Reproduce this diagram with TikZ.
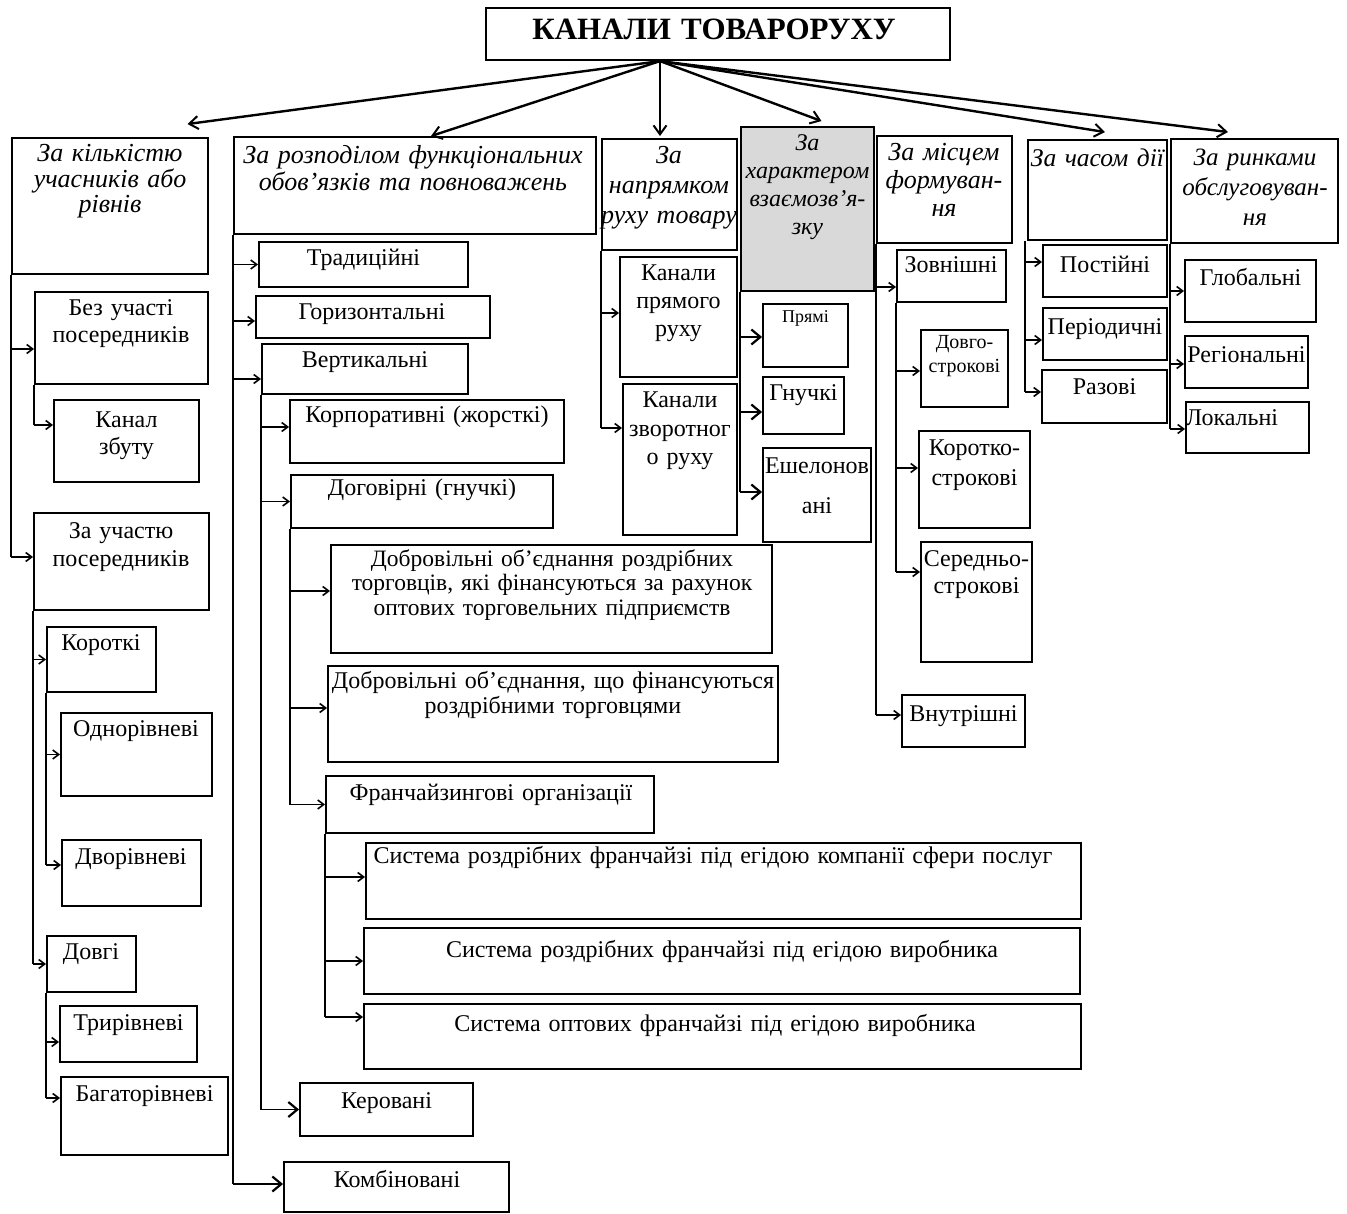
\documentclass[tikz,border=0pt]{standalone}
\usepackage{fontspec}
\setmainfont{Liberation Serif}
\usetikzlibrary{arrows.meta,fit,calc}
\definecolor{hdrgray}{HTML}{D9D9D9}
\tikzset{
  box/.style={draw, line width=1.9pt, inner sep=0pt},
  conn/.style={line width=1.9pt},
  arr/.style={conn, -{Straight Barb[length=6pt,width=9pt,line width=1.6pt]}},
  bigarr/.style={conn, -{Straight Barb[length=9pt,width=15pt,line width=2.2pt]}},
  toparr/.style={line width=2.4pt, -{Straight Barb[length=9pt,width=13pt,line width=2pt]}},
  t/.style={font=\fontsize{24}{27}\selectfont, text width=800pt, align=center, anchor=base, inner sep=0pt},
  h/.style={t, font=\itshape\fontsize{26}{28}\selectfont},
}
\newcommand\bx[6][]{\node[box,#1,fit={(#3,-#4)(#5,-#6)}] (#2) {};}
\newcommand\into[4][arr]{%
  \coordinate (#3-in) at ([yshift=#4]#3.west);
  \draw[#1] (#2 |- #3-in) -- (#3-in);}
\begin{document}
\begin{tikzpicture}[x=1pt,y=1pt]
\useasboundingbox (0,0) rectangle (1347,-1214);

% ---------- title ----------
\bx[line width=2.2pt]{title}{486}{8}{950}{60}
\node[t, font=\bfseries\fontsize{31}{34}\selectfont] (title-t) at (714,-40) {КАНАЛИ ТОВАРОРУХУ};

% ---------- headings ----------
\bx{b1}{12}{138}{208}{274}
\bx{b2}{234}{137}{596}{234}
\bx{b3}{602}{139}{737}{250}
\bx[fill=hdrgray]{b4}{741}{127}{874}{291}
\bx{b5}{877}{136}{1012}{243}
\bx{b6}{1028}{140}{1167}{240}
\bx{b7}{1171}{139}{1338}{243}

\node[h, font=\itshape\fontsize{26}{25.5}\selectfont] (b1-t) at (110,-162) {За кількістю\\учасників або\\рівнів};
\node[h, font=\itshape\fontsize{26}{27}\selectfont] (b2-t) at (413,-164) {За розподілом функціональних\\обов’язків та повноважень};
\node[h, font=\itshape\fontsize{26}{30}\selectfont] (b3-t) at (669,-164) {За\\напрямком\\руху товару};
\node[h, font=\itshape\fontsize{24}{28}\selectfont] (b4-t) at (807.5,-151) {За\\характером\\взаємозв’я-\\зку};
\node[h] (b5-t) at (944,-161) {За місцем\\формуван-\\ня};
\node[h, font=\itshape\fontsize{25.5}{28}\selectfont] (b6-t) at (1097.5,-167) {За часом дії};
\node[h, font=\itshape\fontsize{25}{30}\selectfont] (b7-t) at (1255,-166) {За ринками\\обслуговуван-\\ня};

% ---------- title arrows ----------
\coordinate (o) at ([xshift=-58pt]title.south);
\coordinate (t1) at ([xshift=77.5pt,yshift=13pt]b1.north);
\coordinate (t2) at ([xshift=16pt]b2.north);
\coordinate (t3) at ([xshift=-9.5pt,yshift=2pt]b3.north);
\coordinate (t4) at ([xshift=14pt,yshift=5pt]b4.north);
\coordinate (t6) at ([xshift=7.5pt,yshift=7pt]b6.north);
\coordinate (t7) at ([xshift=-26.5pt,yshift=6pt]b7.north);
\foreach \e in {t1,t2,t3,t4,t6,t7} \draw[toparr] (o) -- (\e);

% ---------- column 1 ----------
\bx{bez}{35}{292}{208}{384}
\bx{kanal}{54}{400}{199}{482}
\bx{zau}{34}{513}{209}{610}
\bx{korot}{47}{627}{156}{692}
\bx{odno}{61}{713}{212}{796}
\bx{dvo}{62}{840}{201}{906}
\bx{dovgi}{47}{936}{136}{992}
\bx{tri}{60}{1006}{197}{1062}
\bx{bagato}{61}{1077}{228}{1155}

\node[t] (bez-t) at (121,-316) {Без участі\\посередників};
\node[t] (kanal-t) at (126.5,-428) {Канал\\збуту};
\node[t, font=\fontsize{24}{28}\selectfont] (zau-t) at (121,-538) {За участю\\посередників};
\node[t] (korot-t) at (101,-650) {Короткі};
\node[t] (odno-t) at (136,-736) {Однорівневі};
\node[t] (dvo-t) at (131,-864) {Дворівневі};
\node[t] (dovgi-t) at (91,-959) {Довгі};
\node[t] (tri-t) at (128.5,-1030) {Трирівневі};
\node[t] (bagato-t) at (144.5,-1101) {Багаторівневі};

\into{b1.south west}{bez}{-11pt}
\into{b1.south west}{zau}{4.5pt}
\draw[conn] (b1.south west) -- (zau-in -| b1.south west);
\into{bez.south west}{kanal}{16pt}
\draw[conn] (bez.south west) -- (kanal-in -| bez.south west);
\into{zau.south west}{korot}{0pt}
\into{zau.south west}{dovgi}{0pt}
\draw[conn] (zau.south west) -- (dovgi-in -| zau.south west);
\into{korot.south west}{odno}{0pt}
\into{korot.south west}{dvo}{8pt}
\draw[conn] (korot.south west) -- (dvo-in -| korot.south west);
\into{dovgi.south west}{tri}{-8pt}
\into{dovgi.south west}{bagato}{18pt}
\draw[conn] (dovgi.south west) -- (bagato-in -| dovgi.south west);

% ---------- column 2 ----------
\bx{trad}{259}{242}{468}{287}
\bx{gor}{256}{296}{490}{338}
\bx{vert}{262}{344}{468}{394}
\bx{korp}{290}{400}{564}{463}
\bx{dogov}{291}{475}{553}{528}
\bx{dobr1}{331}{545}{772}{653}
\bx{dobr2}{328}{666}{778}{762}
\bx{franch}{326}{776}{654}{833}
\bx{sys1}{366}{843}{1081}{919}
\bx{sys2}{364}{928}{1080}{994}
\bx{sys3}{364}{1004}{1081}{1069}
\bx{ker}{300}{1083}{473}{1136}
\bx{komb}{284}{1162}{509}{1212}

\node[t] (trad-t) at (363.5,-266) {Традиційні};
\node[t] (gor-t) at (372,-320) {Горизонтальні};
\node[t] (vert-t) at (365,-368) {Вертикальні};
\node[t] (korp-t) at (427,-423) {Корпоративні (жорсткі)};
\node[t] (dogov-t) at (422,-495) {Договірні (гнучкі)};
\node[t, font=\fontsize{23.5}{24.5}\selectfont] (dobr1-t) at (552,-566) {Добровільні об’єднання роздрібних\\торговців, які фінансуються за рахунок\\оптових торговельних підприємств};
\node[t, font=\fontsize{24}{25}\selectfont] (dobr2-t) at (553,-688) {Добровільні об’єднання, що фінансуються\\роздрібними торговцями};
\node[t] (franch-t) at (491,-800) {Франчайзингові організації};
\node[t] (sys1-t) at (713,-863) {Система роздрібних франчайзі під егідою компанії сфери послуг};
\node[t] (sys2-t) at (722,-957) {Система роздрібних франчайзі під егідою виробника};
\node[t] (sys3-t) at (715,-1031) {Система оптових франчайзі під егідою виробника};
\node[t] (ker-t) at (386.5,-1108) {Керовані};
\node[t] (komb-t) at (397,-1187) {Комбіновані};

\into{b2.south west}{trad}{0pt}
\into{b2.south west}{gor}{-4pt}
\into{b2.south west}{vert}{-10pt}
\into[bigarr]{b2.south west}{komb}{3pt}
\draw[conn] (b2.south west) -- (komb-in -| b2.south west);
\into{vert.south west}{korp}{4.5pt}
\into{vert.south west}{dogov}{0pt}
\into[bigarr]{vert.south west}{ker}{0pt}
\draw[conn] (vert.south west) -- (ker-in -| vert.south west);
\into{dogov.south west}{dobr1}{8pt}
\into{dogov.south west}{dobr2}{6pt}
\into{dogov.south west}{franch}{0pt}
\draw[conn] (dogov.south west) -- (franch-in -| dogov.south west);
\into{franch.south west}{sys1}{4pt}
\into{franch.south west}{sys2}{0pt}
\into{franch.south west}{sys3}{19.5pt}
\draw[conn] (franch.south west) -- (sys3-in -| franch.south west);

% ---------- column 3 and 4 ----------
\bx{kpr}{620}{257}{737}{377}
\bx{kzv}{623}{384}{737}{535}
\bx{pryami}{763}{304}{848}{367}
\bx{gnuchki}{763}{377}{844}{434}
\bx{eshel}{763}{448}{871}{542}

\node[t, font=\fontsize{24}{28}\selectfont] (kpr-t) at (678.5,-281) {Канали\\прямого\\руху};
\node[t, font=\fontsize{24}{28.5}\selectfont] (kzv-t) at (680,-408) {Канали\\зворотног\\о руху};
\node[t, font=\fontsize{18}{20}\selectfont] (pryami-t) at (805.5,-323) {Прямі};
\node[t] (gnuchki-t) at (803.5,-401) {Гнучкі};
\node[t] (eshel-t) at (817,-473) {Ешелонов\\[13pt]ані};

\into{b3.south west}{kpr}{4pt}
\into{b3.south west}{kzv}{31.5pt}
\draw[conn] (b3.south west) -- (kzv-in -| b3.south west);
\into[bigarr]{b4.south west}{pryami}{-1.5pt}
\into[bigarr]{b4.south west}{gnuchki}{-6.5pt}
\into[bigarr]{b4.south west}{eshel}{3pt}
\draw[conn] (b4.south west) -- (eshel-in -| b4.south west);

% ---------- column 5 ----------
\bx{zovn}{897}{250}{1006}{302}
\bx{dovgo}{921}{330}{1008}{407}
\bx{korotko}{919}{431}{1030}{528}
\bx{seredno}{921}{542}{1032}{662}
\bx{vnutr}{902}{695}{1025}{747}

\node[t] (zovn-t) at (951,-273) {Зовнішні};
\node[t, font=\fontsize{20}{24}\selectfont] (dovgo-t) at (964.5,-349) {Довго-\\строкові};
\node[t, font=\fontsize{24}{29}\selectfont] (korotko-t) at (974.5,-456) {Коротко-\\строкові};
\node[t] (seredno-t) at (976.5,-566) {Середньо-\\строкові};
\node[t] (vnutr-t) at (963.5,-721) {Внутрішні};

\into{b5.south west}{zovn}{-11pt}
\into{b5.south west}{vnutr}{6pt}
\draw[conn] (b5.south west) -- (vnutr-in -| b5.south west);
\into{zovn.south west}{dovgo}{-2.5pt}
\into{zovn.south west}{korotko}{11.5pt}
\into{zovn.south west}{seredno}{30pt}
\draw[conn] (zovn.south west) -- (seredno-in -| zovn.south west);

% ---------- column 6 ----------
\bx{post}{1043}{245}{1167}{297}
\bx{period}{1043}{308}{1167}{360}
\bx{razovi}{1042}{370}{1167}{423}

\node[t] (post-t) at (1105,-273) {Постійні};
\node[t] (period-t) at (1105,-335) {Періодичні};
\node[t] (razovi-t) at (1104.5,-395) {Разові};

\coordinate (b6trunk) at ([xshift=-2pt]b6.south west);
\into{b6trunk}{post}{9pt}
\into{b6trunk}{period}{-6pt}
\into{b6trunk}{razovi}{4.5pt}
\draw[conn] (b6trunk) -- (razovi-in -| b6trunk);

% ---------- column 7 ----------
\bx{glob}{1185}{260}{1316}{322}
\bx{reg}{1185}{336}{1308}{388}
\bx{lok}{1186}{402}{1309}{453}

\node[t] (glob-t) at (1250.5,-286) {Глобальні};
\node[t] (reg-t) at (1246.5,-363) {Регіональні};
\node[t] (lok-t) at (1232,-425) {Локальні};

\into{b7.south west}{glob}{0pt}
\into{b7.south west}{reg}{-2pt}
\into{b7.south west}{lok}{-1.5pt}
\draw[conn] (b7.south west) -- (lok-in -| b7.south west);
\end{tikzpicture}
\end{document}
